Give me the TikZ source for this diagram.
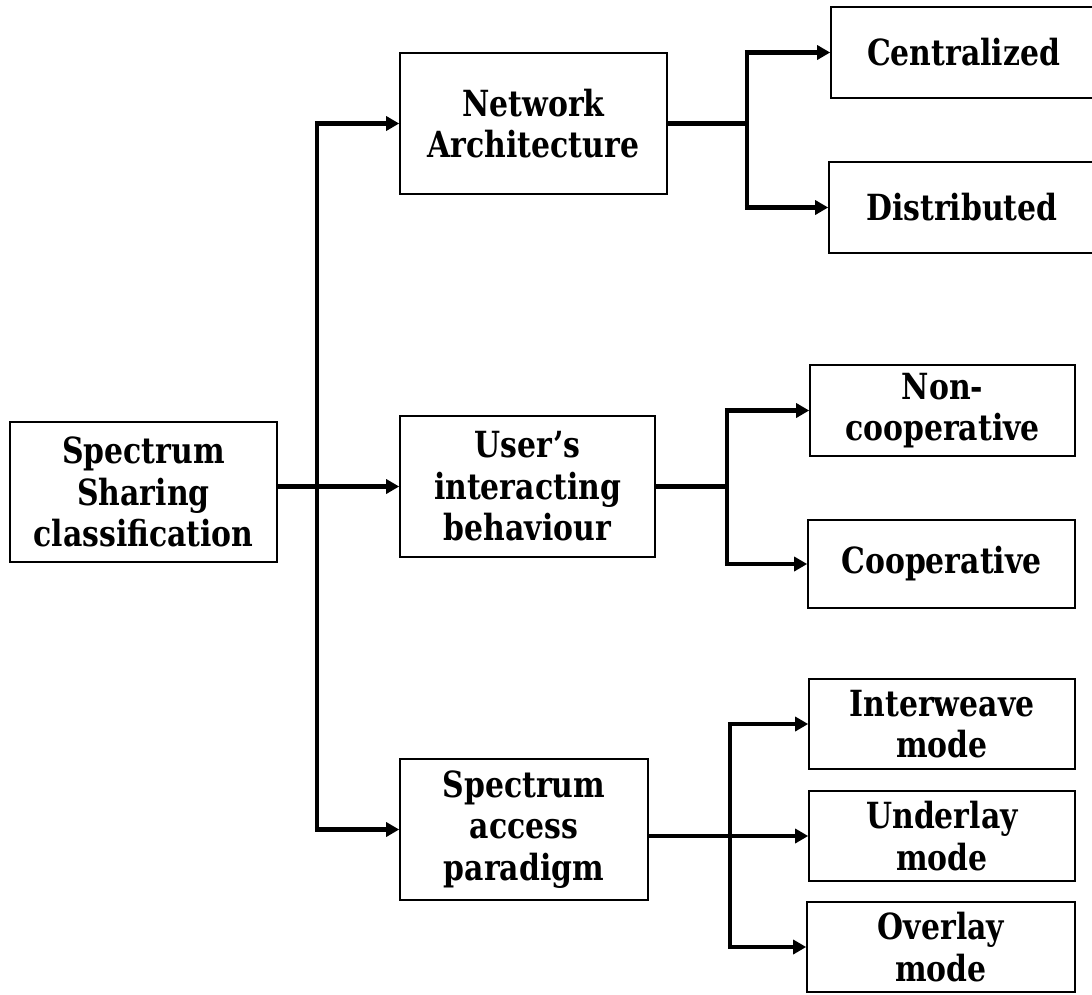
\documentclass[tikz,border=0pt]{standalone}
\usepackage{fontspec}
\setmainfont{DejaVu Serif}[FakeStretch=0.83]
\usetikzlibrary{arrows.meta}
\tikzset{
  box/.style={draw, line width=1.6pt, align=center, inner sep=0pt,
    font={\bfseries\fontsize{36}{41.5}\selectfont}},
  conn/.style={line width=4.5pt},
  arr/.style={line width=4.5pt, -{Triangle[length=13pt,width=14pt]}}
}
\begin{document}
\begin{tikzpicture}[x=1pt,y=-1pt]
\useasboundingbox (0,0) rectangle (1092,994);
\begin{scope}
\clip (0,0) rectangle (1092,994);
% level 0
\node[box, minimum width=267pt, minimum height=140pt] (root) at (143.5,492) {Spectrum\\Sharing\\classification};
% level 1
\node[box, minimum width=267pt, minimum height=141pt] (na) at (533.5,123.5) {Network\\Architecture};
\node[box, minimum width=255pt, minimum height=141pt] (ui) at (527.5,486.5) {User’s\\interacting\\behaviour};
\node[box, minimum width=248pt, minimum height=141pt] (sa) at (524,829.5) {Spectrum\\access\\paradigm};
% level 2
\node[box, minimum width=265pt, minimum height=91pt] (cen) at (963.5,52.5) {Centralized};
\node[box, minimum width=266pt, minimum height=91pt] (dis) at (962,207.5) {Distributed};
\node[box, minimum width=265pt, minimum height=91pt] (nc) at (942.5,410.5) {Non-\\cooperative};
\node[box, minimum width=267pt, minimum height=88pt] (co) at (941.5,564) {Cooperative};
\node[box, minimum width=266pt, minimum height=90pt] (iw) at (942,724) {Interweave\\mode};
\node[box, minimum width=266pt, minimum height=90pt] (ul) at (942,836) {Underlay\\mode};
\node[box, minimum width=268pt, minimum height=90pt] (ol) at (941,947) {Overlay\\mode};
\end{scope}
% junction x positions
\coordinate (t0) at (317,0);
\coordinate (t1) at (747,0);
\coordinate (t2) at (727,0);
\coordinate (t3) at (730,0);
% root to level 1
\draw[arr] (root.east |- ui.west) -- (ui.west);
\draw[conn] (t0 |- na.west) -- (t0 |- sa.west);
\draw[arr] ([xshift=-2.25pt]t0 |- na.west) -- (na.west);
\draw[arr] ([xshift=-2.25pt]t0 |- sa.west) -- (sa.west);
% network architecture
\draw[conn] (na.east) -- (t1 |- na.east);
\draw[conn] (t1 |- cen.west) -- (t1 |- dis.west);
\draw[arr] ([xshift=-2.25pt]t1 |- cen.west) -- (cen.west);
\draw[arr] ([xshift=-2.25pt]t1 |- dis.west) -- (dis.west);
% user's interacting behaviour
\draw[conn] (ui.east) -- (t2 |- ui.east);
\draw[conn] (t2 |- nc.west) -- (t2 |- co.west);
\draw[arr] ([xshift=-2.25pt]t2 |- nc.west) -- (nc.west);
\draw[arr] ([xshift=-2.25pt]t2 |- co.west) -- (co.west);
% spectrum access paradigm
\draw[arr] (sa.east |- ul.west) -- (ul.west);
\draw[conn] (t3 |- iw.west) -- (t3 |- ol.west);
\draw[arr] ([xshift=-2.25pt]t3 |- iw.west) -- (iw.west);
\draw[arr] ([xshift=-2.25pt]t3 |- ol.west) -- (ol.west);
\end{tikzpicture}
\end{document}
